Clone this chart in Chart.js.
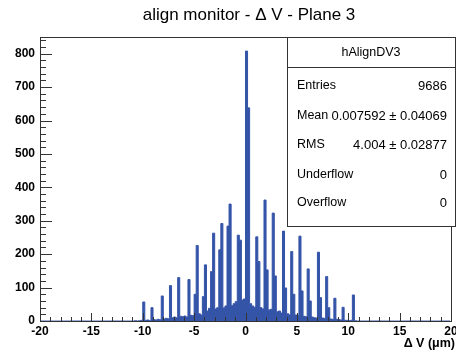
<!DOCTYPE html>
<html>
<head>
<meta charset="utf-8">
<script src="https://cdn.jsdelivr.net/npm/chart.js@4/dist/chart.umd.min.js"></script>
<style>
  html, body { margin: 0; padding: 0; background: #fff; }
  #c { display: block; }
</style>
</head>
<body>
<canvas id="c" width="456" height="352"></canvas>
<script>
// histogram binning: 200 bins of 0.2 from -20 to 20, filled bins listed from -11 to 11
const xMin = -20, xMax = 20, binWidth = 0.2;
const filledFrom = -11.0;
const counts = [
  0, 1, 0, 1, 2,          // -11 .. -10
  57, 2, 3, 1, 40,        // -10 .. -9
  4, 3, 5, 4, 75,         // -9 .. -8
  6, 8, 7, 106, 10,       // -8 .. -7
  12, 10, 130, 14, 13,    // -7 .. -6
  15, 12, 124, 17, 16,    // -6 .. -5
  80, 226, 22, 18, 73,    // -5 .. -4
  168, 30, 38, 148, 263,  // -4 .. -3
  36, 40, 213, 292, 39,   // -3 .. -2
  45, 284, 350, 46, 52,   // -2 .. -1
  58, 257, 242, 63, 66,   // -1 .. 0
  808, 638, 52, 45, 41,   // 0 .. 1
  252, 178, 40, 36, 362,  // 1 .. 2
  153, 33, 35, 323, 135,  // 2 .. 3
  28, 30, 24, 269, 99,    // 3 .. 4
  22, 19, 208, 80, 18,    // 4 .. 5
  17, 254, 90, 14, 13,    // 5 .. 6
  156, 60, 12, 10, 9,     // 6 .. 7
  206, 70, 9, 8, 133,     // 7 .. 8
  40, 6, 5, 68, 5,        // 8 .. 9
  4, 3, 41, 2, 2,         // 9 .. 10
  1, 2, 78, 1, 0          // 10 .. 11
];
const xTicks = [-20, -15, -10, -5, 0, 5, 10, 15, 20];
const yTicks = [0, 100, 200, 300, 400, 500, 600, 700, 800];
const yMax = 850;

const histName = 'hAlignDV3';
const statLabels = ['Entries', 'Mean', 'RMS', 'Underflow', 'Overflow'];
const statValues = ['9686', '0.007592 \u00b1 0.04069', '4.004 \u00b1 0.02877', '0', '0'];
const titleText = 'align monitor - \u0394 V - Plane 3';
const xTitle = '\u0394 V (\u03bcm)';

const fill = '#3454a8';
const frameColor = '#333';

// one point per bin centre; empty bins outside the filled range are zero
const nBins = Math.round((xMax - xMin) / binWidth);
const firstFilled = Math.round((filledFrom - xMin) / binWidth);
const points = [];
for (let i = 0; i < nBins; i++) {
    const k = i - firstFilled;
    const y = (k >= 0 && k < counts.length) ? counts[k] : 0;
    points.push({ x: xMin + (i + 0.5) * binWidth, y: y });
}

const rootStyle = {
    id: 'rootStyle',
    afterDatasetsDraw(chart) {
        const c = chart.ctx;
        const a = chart.chartArea;
        const xs = chart.scales.x, ys = chart.scales.y;
        c.save();
        c.strokeStyle = frameColor;
        c.lineWidth = 1;
        // frame
        c.strokeRect(Math.round(a.left) + 0.5, Math.round(a.top) + 0.5,
            Math.round(a.right - a.left), Math.round(a.bottom - a.top));
        // y ticks pointing in
        c.beginPath();
        for (let v = 0; v <= yMax; v += 20) {
            const py = Math.round(ys.getPixelForValue(v)) + 0.5;
            const len = (v % 100 === 0) ? 12 : 6;
            c.moveTo(a.left, py);
            c.lineTo(a.left + len, py);
        }
        // x ticks pointing up
        for (let v = xMin; v <= xMax; v += 1) {
            const px = Math.round(xs.getPixelForValue(v)) + 0.5;
            const len = (v % 5 === 0) ? 8 : 4;
            c.moveTo(px, a.bottom);
            c.lineTo(px, a.bottom - len);
        }
        c.stroke();
        c.restore();
    },
    afterDraw(chart) {
        const c = chart.ctx;
        c.save();
        c.fillStyle = '#000';
        // title
        c.font = '17px "Liberation Sans", Arial, sans-serif';
        c.textAlign = 'center';
        c.textBaseline = 'middle';
        c.fillText(titleText, 249, 15);
        // x axis title
        c.font = 'bold 12.5px "Liberation Sans", Arial, sans-serif';
        c.textAlign = 'right';
        c.fillText(xTitle, 455, 344);

        // stats box
        const bx = 287.5, by = 37.5, bw = 168, bh = 189;
        c.fillStyle = '#fff';
        c.fillRect(bx, by, bw, bh);
        c.strokeStyle = frameColor;
        c.lineWidth = 1;
        c.strokeRect(bx, by, bw, bh);
        c.beginPath();
        c.moveTo(bx, 67.5);
        c.lineTo(bx + bw, 67.5);
        c.stroke();
        c.fillStyle = '#000';
        c.font = '12.5px "Liberation Sans", Arial, sans-serif';
        c.textAlign = 'center';
        c.fillText(histName, 371, 53);
        const rowY = [86, 116, 145, 175, 203];
        statLabels.forEach((lab, i) => {
            c.font = '12.5px "Liberation Sans", Arial, sans-serif';
            c.textAlign = 'left';
            c.fillText(lab, 297, rowY[i]);
            c.font = '13px "Liberation Sans", Arial, sans-serif';
            c.textAlign = 'right';
            c.fillText(statValues[i], 447, rowY[i]);
        });
        c.restore();
    }
};

const ctx = document.getElementById('c').getContext('2d');
new Chart(ctx, {
    type: 'line',
    data: {
        datasets: [{
            data: points,
            stepped: 'middle',
            fill: 'origin',
            backgroundColor: fill,
            borderColor: fill,
            borderWidth: 1,
            pointRadius: 0
        }]
    },
    options: {
        responsive: false,
        animation: false,
        layout: { padding: { top: 37, right: 5, left: 0, bottom: 0 } },
        plugins: {
            legend: { display: false },
            tooltip: { enabled: false },
            title: { display: false }
        },
        scales: {
            x: {
                type: 'linear',
                min: xMin,
                max: xMax,
                afterBuildTicks: s => { s.ticks = xTicks.map(v => ({ value: v })); },
                ticks: {
                    autoSkip: false,
                    maxRotation: 0,
                    padding: 3,
                    color: '#000',
                    font: { family: '"Liberation Sans", Arial, sans-serif', size: 12, weight: 'bold' }
                },
                grid: { display: false, drawTicks: false },
                border: { display: false },
                afterFit: s => { s.height = 31; s.paddingLeft = 0; s.paddingRight = 0; }
            },
            y: {
                min: 0,
                max: yMax,
                afterBuildTicks: s => { s.ticks = yTicks.map(v => ({ value: v })); },
                ticks: {
                    padding: 5,
                    color: '#000',
                    font: { family: '"Liberation Sans", Arial, sans-serif', size: 12, weight: 'bold' }
                },
                grid: { display: false, drawTicks: false },
                border: { display: false },
                afterFit: s => { s.width = 40; }
            }
        }
    },
    plugins: [rootStyle]
});
</script>
</body>
</html>
